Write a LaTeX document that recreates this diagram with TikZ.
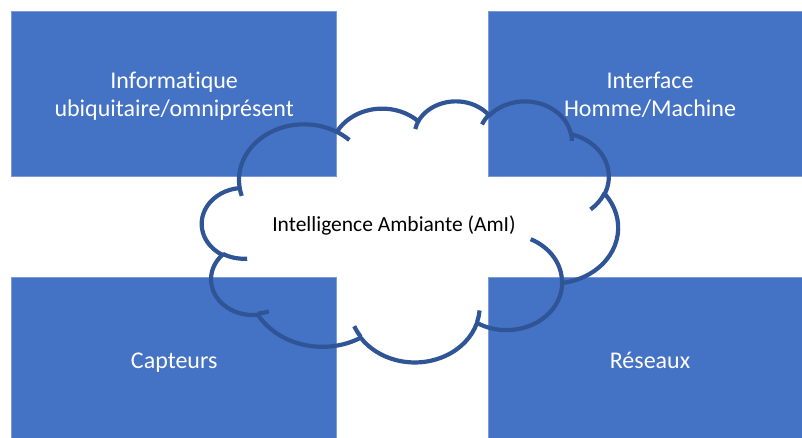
\documentclass[tikz,border=0pt]{standalone}
\usepackage{fontspec}
\setmainfont{Carlito}[Ligatures=NoCommon]
\definecolor{boxblue}{HTML}{4472C4}
\definecolor{boxedge}{HTML}{7C9BD6}
\definecolor{cloudblue}{HTML}{2F5597}
\begin{document}
\begin{tikzpicture}[x=1pt,y=1pt,
  declare function={
    ptang(\a,\b,\t)=atan2(\a*sin(\t),\b*cos(\t));
    dparam(\a,\b,\t,\s)=mod(ptang(\a,\b,\t+\s)-ptang(\a,\b,\t)+540,360)-180;
  },
  box/.style={fill=boxblue, draw=boxedge, line width=0.7pt, minimum width=325pt, minimum height=165pt, inner sep=0pt},
  boxtext/.style={text=white, font=\fontsize{24}{28.4}\selectfont, align=center, anchor=base},
  cld/.style n args={4}{start angle={ptang(#1,#2,#3)}, delta angle={dparam(#1,#2,#3,#4)}, x radius=#1pt, y radius=#2pt},
  cloudline/.style={draw=cloudblue, line width=4.2pt, line join=round}]
\useasboundingbox (0,0) rectangle (802,437);
\clip (0,0) rectangle (802,437);
% boxes
\node[box] (tl) at (174.2,342.8) {};
\node[box] (tr) at (650.8,342.8) {};
\node[box] (bl) at (174.2,77.2) {};
\node[box] (br) at (650.8,77.2) {};
% box texts (base = baseline of last line)
\node[boxtext] (tltext) at (174.2,320.3) {Informatique\\ubiquitaire/omniprésent};
\node[boxtext] (trtext) at (650,320.3) {Interface\\Homme/Machine};
\node[boxtext] (bltext) at (174.2,68.7) {Capteurs};
\node[boxtext] (brtext) at (650,68.7) {Réseaux};
% cloud
\begin{scope}[shift={(202,336.5)}, xscale=0.96296, yscale=-0.60417]
\draw[cloudline] (39.00,143.70)
  arc[cld={67.53}{91.90}{-190.4875}{123.7805}]
  arc[cld={53.33}{72.67}{-144.1024}{89.9452}]
  arc[cld={43.65}{59.45}{-145.8079}{99.7230}]
  arc[cld={48.57}{65.95}{-130.9861}{117.2417}]
  arc[cld={53.33}{72.73}{-78.7089}{109.0269}]
  arc[cld={67.75}{92.20}{-46.2673}{130.2690}]
  arc[cld={57.85}{78.67}{0.6250}{114.0333}]
  arc[cld={67.52}{92.15}{22.4516}{115.1726}]
  arc[cld={77.20}{105.43}{66.2426}{75.7110}]
  arc[cld={43.60}{59.18}{-274.9421}{146.7356}]
  arc[cld={43.45}{59.45}{-246.8285}{152.5189}]
  -- cycle;
\draw[cloudline]
  (46.93,261.77) arc[cld={43.45}{59.45}{86.742}{26.4295}]
  (69.28,348.99) arc[cld={43.60}{59.18}{73.6105}{11.4475}]
  (164.78,390.90) arc[cld={67.52}{92.15}{137.6242}{14.0811}]
  (288.27,347.51) arc[cld={67.52}{92.15}{6.4533}{15.9984}]
  (341.29,229.54) arc[cld={57.85}{78.67}{-70.2924}{70.9174}]
  (417.98,153.54) arc[cld={53.33}{72.73}{30.3180}{27.7515}]
  (383.24,54.26) arc[cld={48.57}{65.95}{-13.7443}{14.8589}]
  (290.78,39.52) arc[cld={48.57}{65.95}{-149.1815}{18.1954}]
  (221.41,47.20) arc[cld={43.65}{59.45}{-163.4943}{17.6864}]
  (140.00,51.92) arc[cld={67.53}{91.90}{-66.7070}{12.3194}]
  (41.27,157.89) arc[cld={67.53}{91.90}{157.6544}{11.8582}];
\end{scope}
\node[font=\fontsize{21.5}{25}\selectfont, anchor=base] (aml) at (394,205.3) {Intelligence Ambiante (AmI)};
\end{tikzpicture}
\end{document}
